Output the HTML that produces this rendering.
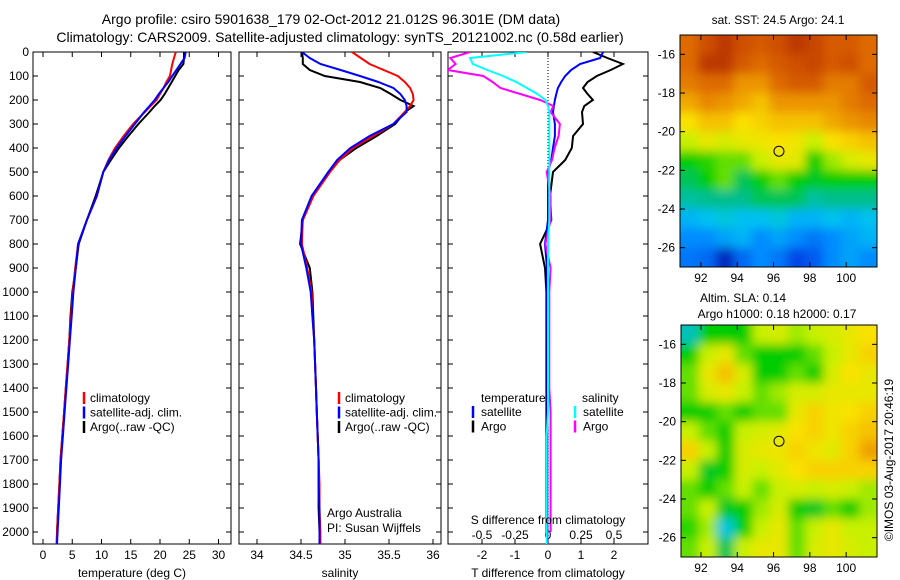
<!DOCTYPE html>
<html><head><meta charset="utf-8"><style>
html,body{margin:0;padding:0;background:#fff;}
svg{display:block;font-family:"Liberation Sans",sans-serif;font-size:12px;}
</style></head><body>
<svg id="fig" width="900" height="580" viewBox="0 0 900 580" xmlns="http://www.w3.org/2000/svg">
<defs>
<clipPath id="c1"><rect x="33" y="52" width="198" height="492"/></clipPath>
<clipPath id="c2"><rect x="239" y="52" width="202" height="492"/></clipPath>
<clipPath id="c3"><rect x="448" y="52" width="200" height="492"/></clipPath>
<clipPath id="cm1"><rect x="680" y="35" width="197" height="232"/></clipPath>
<clipPath id="cm2"><rect x="681" y="325" width="196" height="232"/></clipPath>
<filter id="blur" x="-10%" y="-10%" width="120%" height="120%"><feGaussianBlur stdDeviation="5"/></filter>
</defs>
<text x="331" y="24" text-anchor="middle" font-size="14">Argo profile: csiro 5901638_179 02-Oct-2012 21.012S 96.301E (DM data)</text>
<text x="340" y="42" text-anchor="middle" font-size="14">Climatology: CARS2009. Satellite-adjusted climatology: synTS_20121002.nc (0.58d earlier)</text>
<g id="p1"></g>
<g id="p2"></g>
<g id="p3"></g>
<g id="m1"></g>
<g id="m2"></g>
<text x="778" y="24" text-anchor="middle">sat. SST: 24.5 Argo: 24.1</text>
<text x="743" y="302" text-anchor="middle">Altim. SLA: 0.14</text>
<text x="777" y="318" text-anchor="middle">Argo h1000: 0.18 h2000: 0.17</text>
<text transform="translate(893,460) rotate(-90)" text-anchor="middle">©IMOS 03-Aug-2017 20:46:19</text>
</svg>
<script>
const depths=[0,25,50,75,100,125,150,175,200,225,250,300,350,400,450,500,600,700,800,900,1000,1100,1200,1300,1400,1500,1600,1700,1800,1900,2000,2050];
const tempClim=[22.7,22.4,22.1,21.9,21.7,21.1,20.6,20.0,19.4,18.4,17.4,15.4,13.8,12.3,11.2,10.3,9.2,7.5,6.0,5.5,5.1,4.8,4.5,4.2,3.9,3.6,3.3,3.0,2.8,2.6,2.4,2.3];
const tempSat=[24.4,24.2,23.5,22.8,22.1,21.4,20.6,19.8,19.1,18.2,17.3,15.7,14.1,12.6,11.3,10.3,9.2,7.5,6.0,5.6,5.2,4.9,4.6,4.3,4.0,3.7,3.4,3.1,2.9,2.7,2.5,2.4];
const tempArgo=[24.1,24.1,24.0,23.2,22.6,22.0,21.4,20.8,20.1,19.1,18.2,16.3,14.6,13.0,11.6,10.3,9.0,7.5,6.1,5.6,5.0,4.7,4.5,4.2,3.9,3.6,3.3,3.0,2.8,2.6,2.4,null];
const salClim=[35.08,35.18,35.28,35.44,35.6,35.68,35.74,35.77,35.78,35.74,35.68,35.55,35.32,35.09,34.94,34.83,34.64,34.52,34.51,34.57,34.62,34.63,34.65,34.66,34.67,34.68,34.69,34.70,34.71,34.71,34.72,34.72];
const salSat=[34.51,34.6,34.72,34.95,35.17,35.38,35.55,35.63,35.68,35.7,35.7,35.55,35.28,35.06,34.91,34.81,34.62,34.51,34.5,34.56,34.61,34.63,34.65,34.66,34.67,34.68,34.69,34.70,34.70,34.71,34.71,34.71];
const salArgo=[34.51,34.52,34.52,34.6,34.77,35.17,35.4,35.52,35.63,35.78,35.68,35.57,35.36,35.13,34.94,34.81,34.64,34.52,34.49,34.6,34.63,34.64,34.65,34.66,34.67,34.68,34.69,34.70,34.70,34.70,34.71,null];
const dTSat=[1.67,1.58,0.97,0.7,0.52,0.4,0.3,0.25,0.21,0.18,0.15,0.21,0.21,0.15,0.1,0.0,0.0,0.0,-0.09,-0.03,-0.03,-0.03,-0.02,-0.02,-0.02,-0.02,-0.02,-0.02,-0.02,-0.02,-0.02,-0.02];
const dTArgo=[1.36,1.8,2.27,1.9,1.48,1.2,1.06,1.2,1.36,1.1,1.03,1.06,0.76,0.72,0.52,0.15,0.06,0.1,-0.24,-0.09,-0.05,-0.05,-0.05,-0.05,-0.05,-0.05,-0.05,-0.05,-0.05,-0.05,-0.05,null];
const dSSat=[-0.16,-0.59,-0.57,-0.46,-0.34,-0.24,-0.16,-0.08,-0.02,0.0,0.01,0.01,0.01,0.01,0.01,0.01,0.01,0.01,0.0,0.0,0.0,0.0,0.0,0.0,0.0,0.0,-0.01,-0.01,-0.01,-0.01,-0.01,-0.01];
const dSArgo=[-0.59,-0.74,-0.7,-0.76,-0.49,-0.42,-0.36,-0.21,-0.06,0.04,0.02,0.09,0.08,0.05,0.03,-0.01,0.02,0.02,-0.02,0.02,0.01,0.01,0.01,0.01,0.01,0.02,0.02,0.02,0.02,0.02,0.02,null];
const depthTicks=[0,100,200,300,400,500,600,700,800,900,1000,1100,1200,1300,1400,1500,1600,1700,1800,1900,2000];
const tempTicks=[0,5,10,15,20,25,30];
const salTicks=[34,34.5,35,35.5,36];
const dTTicks=[-2,-1,0,1,2];
const dSTicks=[-0.5,-0.25,0,0.25,0.5];
const sstGrid=[
[.85,.9,.95,.9,.88,.9,.95,.92,.88,.88,.85],
[.85,.95,.95,.88,.85,.88,.9,.92,.88,.9,.85],
[.82,.85,.85,.78,.78,.85,.88,.88,.82,.82,.88],
[.75,.8,.78,.75,.72,.78,.78,.78,.78,.82,.85],
[.68,.72,.72,.68,.7,.72,.72,.72,.75,.78,.8],
[.6,.65,.62,.65,.66,.68,.66,.6,.68,.7,.72],
[.5,.52,.55,.55,.6,.65,.64,.5,.58,.62,.65],
[.45,.5,.55,.45,.5,.55,.5,.48,.5,.5,.5],
[.4,.42,.42,.42,.45,.45,.45,.4,.42,.42,.42],
[.3,.32,.35,.32,.32,.35,.3,.3,.32,.3,.32],
[.25,.25,.28,.3,.25,.28,.25,.22,.25,.28,.3],
[.22,.2,.08,.2,.25,.22,.15,.18,.25,.28,.25]];
const slaGrid=[
[.38,.5,.5,.5,.6,.62,.58,.6,.62,.65,.68],
[.5,.6,.65,.55,.5,.5,.5,.55,.6,.65,.7],
[.55,.65,.72,.62,.5,.5,.55,.5,.62,.68,.65],
[.55,.62,.65,.6,.55,.58,.62,.62,.65,.65,.65],
[.5,.5,.55,.5,.55,.55,.65,.7,.66,.68,.7],
[.6,.55,.5,.6,.62,.64,.68,.7,.66,.7,.72],
[.7,.6,.5,.62,.65,.66,.7,.66,.64,.7,.76],
[.6,.48,.5,.62,.6,.64,.68,.7,.7,.7,.7],
[.55,.5,.55,.6,.55,.6,.62,.6,.62,.6,.58],
[.55,.6,.48,.5,.58,.62,.5,.48,.55,.5,.58],
[.52,.58,.35,.5,.6,.65,.55,.6,.65,.6,.6],
[.55,.6,.45,.6,.65,.65,.55,.62,.65,.62,.6]];
const latTicks=[-16,-18,-20,-22,-24,-26];
const lonTicks=[92,94,96,98,100];
const argoLon=96.301, argoLat=-21.012;

const NS='http://www.w3.org/2000/svg';
function mk(parent,tag,attrs,text){const e=document.createElementNS(NS,tag);for(const k in attrs)e.setAttribute(k,attrs[k]);if(text!==undefined)e.textContent=text;parent.appendChild(e);return e;}
const yD=d=>52+d*0.24;
const fmt=v=>String(v);

function frame(g,x0,x1,y0,y1){
  const r=mk(g,'rect',{x:x0,y:y0,width:x1-x0,height:y1-y0,fill:'none',stroke:'#000','stroke-width':1});
  
  
}
function yTicks(g,x0,x1,labels){
  depthTicks.forEach(d=>{const y=yD(d);
    mk(g,'line',{x1:x0,x2:x0+5,y1:y,y2:y,stroke:'#000'});
    mk(g,'line',{x1:x1-5,x2:x1,y1:y,y2:y,stroke:'#000'});
    if(labels){const t=mk(g,'text',{x:x0-4,y:y+4,'text-anchor':'end'},fmt(d));
      
      }
  });
}
function xTicks(g,ticks,sx,y0,y1,ly,top,bottom){
  ticks.forEach(v=>{const x=sx(v);
    if(bottom)mk(g,'line',{x1:x,x2:x,y1:y1,y2:y1-5,stroke:'#000'});
    if(top)mk(g,'line',{x1:x,x2:x,y1:y0,y2:y0+5,stroke:'#000'});
    if(ly){const t=mk(g,'text',{x:x,y:ly,'text-anchor':'middle'},fmt(v));
      
      }
  });
}
function line(g,vals,sx,color,name,clip){
  let pts=[];
  vals.forEach((v,i)=>{if(v!==null)pts.push(sx(v).toFixed(1)+','+yD(depths[i]).toFixed(1));});
  const p=mk(g,'polyline',{points:pts.join(' '),fill:'none',stroke:color,'stroke-width':2,'clip-path':'url(#'+clip+')'});
  
  
}
function legend(g,x,items){
  items.forEach((it,i)=>{const y=398+i*14.5;
    mk(g,'line',{x1:x,x2:x,y1:y-6,y2:y+6,stroke:it[1],'stroke-width':2.5});
    const t=mk(g,'text',{x:x+6,y:y+4},it[0]);
    
    });
}

// Panel 1
const p1=document.getElementById('p1');
const sxT=t=>43+t*5.85;
frame(p1,33,231,52,544);yTicks(p1,33,231,true);
xTicks(p1,tempTicks,sxT,52,544,559,true,true);
line(p1,tempArgo,sxT,'#000','temp-argo-line','c1');
line(p1,tempClim,sxT,'#f00','temp-climatology-line','c1');
line(p1,tempSat,sxT,'#00f','temp-satellite-line','c1');
legend(p1,84,[['climatology','#f00'],['satellite-adj. clim.','#00f'],['Argo(..raw -QC)','#000']]);
let t=mk(p1,'text',{x:132,y:577,'text-anchor':'middle'},'temperature (deg C)');


// Panel 2
const p2=document.getElementById('p2');
const sxS=s=>257+(s-34)*88;
frame(p2,239,441,52,544);yTicks(p2,239,441,false);
xTicks(p2,salTicks,sxS,52,544,559,true,true);
line(p2,salArgo,sxS,'#000','sal-argo-line','c2');
line(p2,salClim,sxS,'#f00','sal-climatology-line','c2');
line(p2,salSat,sxS,'#00f','sal-satellite-line','c2');
legend(p2,339,[['climatology','#f00'],['satellite-adj. clim.','#00f'],['Argo(..raw -QC)','#000']]);
t=mk(p2,'text',{x:327,y:517},'Argo Australia');
t=mk(p2,'text',{x:327,y:532},'PI: Susan Wijffels');
t=mk(p2,'text',{x:340,y:577,'text-anchor':'middle'},'salinity');

// Panel 3
const p3=document.getElementById('p3');
const sxdT=v=>548+v*33, sxdS=v=>548+v*132;
frame(p3,448,648,52,544);yTicks(p3,448,648,false);
xTicks(p3,dTTicks,sxdT,52,544,559,false,true);
xTicks(p3,dSTicks,sxdS,52,544,539,true,false);
mk(p3,'line',{x1:548,x2:548,y1:52,y2:544,stroke:'#000','stroke-dasharray':'1,2'});
line(p3,dTArgo,sxdT,'#000','dt-argo-line','c3');
line(p3,dTSat,sxdT,'#00f','dt-satellite-line','c3');
line(p3,dSArgo,sxdS,'#f0f','ds-argo-line','c3');
line(p3,dSSat,sxdS,'#0ff','ds-satellite-line','c3');
t=mk(p3,'text',{x:481,y:402},'temperature');
t=mk(p3,'text',{x:582,y:402},'salinity');
[['satellite','#00f',473],['Argo','#000',473],['satellite','#0ff',575],['Argo','#f0f',575]].forEach((it,i)=>{
  const y=412+(i%2)*14.5;mk(p3,'line',{x1:it[2],x2:it[2],y1:y-6,y2:y+6,stroke:it[1],'stroke-width':2.5});
  const e=mk(p3,'text',{x:it[2]+8,y:y+4},it[0]);
  
  });
t=mk(p3,'text',{x:548,y:524,'text-anchor':'middle'},'S difference from climatology');
t=mk(p3,'text',{x:548,y:577,'text-anchor':'middle'},'T difference from climatology');

// Maps
const cstops=[[0,[0,0,140]],[0.15,[0,70,230]],[0.25,[0,140,255]],[0.33,[0,200,240]],[0.42,[0,190,140]],[0.5,[0,205,0]],[0.6,[200,240,0]],[0.68,[250,225,0]],[0.76,[240,160,0]],[0.86,[220,100,0]],[1,[170,30,0]]];
function cmap(v){for(let i=1;i<cstops.length;i++){if(v<=cstops[i][0]){const a=cstops[i-1],b=cstops[i],f=(v-a[0])/(b[0]-a[0]);
  return 'rgb('+a[1].map((c,k)=>Math.round(c+(b[1][k]-c)*f)).join(',')+')';}}return 'rgb(170,30,0)';}
function drawMap(gid,grid,x0,x1,y0,y1,lon0,lon1,lat0,lat1,clip){
  const g=document.getElementById(gid);
  const sx=l=>x0+(l-lon0)/(lon1-lon0)*(x1-x0);
  const sy=l=>y0+(lat0-l)/(lat0-lat1)*(y1-y0);
  const nr=grid.length,nc=grid[0].length;
  const cw=(x1-x0)/nc, ch=(y1-y0)/nr, pad=12;
  const cg=mk(g,'g',{'clip-path':'url(#'+clip+')'});
  const bg=mk(cg,'g',{filter:'url(#blur)'});
  grid.forEach((row,r)=>row.forEach((v,c)=>{
    let cx=x0+c*cw, cy=y0+r*ch, w=cw+1, h=ch+1;
    if(c===0){cx-=pad;w+=pad;} if(c===nc-1){w+=pad;}
    if(r===0){cy-=pad;h+=pad;} if(r===nr-1){h+=pad;}
    const cell=mk(bg,'rect',{x:cx,y:cy,width:w,height:h,fill:cmap(v)});
    
    
  }));
  frame(g,x0,x1,y0,y1);
  latTicks.forEach(l=>{const y=sy(l);mk(g,'line',{x1:x0,x2:x0+5,y1:y,y2:y,stroke:'#000'});mk(g,'line',{x1:x1-5,x2:x1,y1:y,y2:y,stroke:'#000'});
    const e=mk(g,'text',{x:x0-5,y:y+4,'text-anchor':'end'},String(l));
    
    });
  lonTicks.forEach(l=>{const x=sx(l);mk(g,'line',{x1:x,x2:x,y1:y0,y2:y0+5,stroke:'#000'});mk(g,'line',{x1:x,x2:x,y1:y1-5,y2:y1,stroke:'#000'});
    const e=mk(g,'text',{x:x,y:y1+15,'text-anchor':'middle'},String(l));
    
    });
  const m=mk(g,'circle',{cx:sx(argoLon),cy:sy(argoLat),r:5,fill:'none',stroke:'#000','stroke-width':1});
  
  
}
drawMap('m1',sstGrid,680,877,35,267,90.85,101.7,-15.0,-27.0,'cm1');
drawMap('m2',slaGrid,681,877,325,557,90.9,101.7,-15.0,-27.0,'cm2');
</script>
</body></html>
